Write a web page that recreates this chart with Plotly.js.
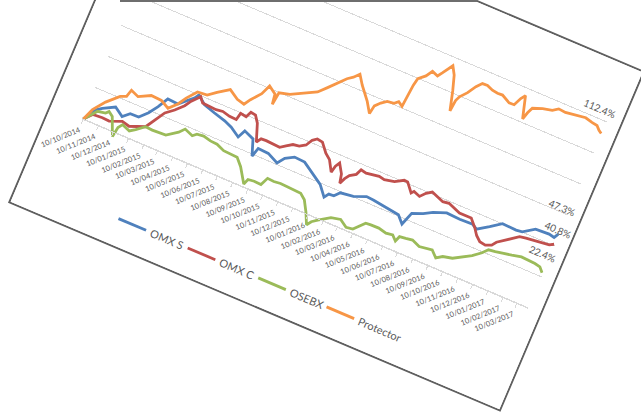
<!DOCTYPE html>
<html><head><meta charset="utf-8">
<script src="https://cdn.plot.ly/plotly-3.0.1.min.js"></script>
<style>
html,body{margin:0;padding:0;background:#fff;overflow:hidden;width:641px;height:414px;}
#frame{position:absolute;left:58.5px;top:-48.5px;width:535px;height:370px;box-sizing:border-box;border:2px solid #5f5f5f;background:#fff;transform-origin:50% 50%;}
#chart{position:absolute;left:0;top:0;width:531px;height:366px;}
#topline{position:absolute;left:120px;top:0;width:357px;height:2px;background:#6e6e6e;}
</style></head>
<body>
<div id="frame"><div id="chart"></div></div>
<div id="topline"></div>
<script>
// Days counted from 10/10/2014, cumulative return in %
const omxsDays = [0,15,25,47,65,77,94,108,120,131,152,164,176,182,198,221,245,261,280,287,307,318,323,344,366,376,392,413,432,456,472,478,488,497,522,545,559,588,613,626,635,655,671,695,722,748,758,779,799,827,839,860,887,898,903];
const omxsVals = [0,7.9,10.2,14.0,10.3,13.8,13.9,18.6,24.1,30.6,30.2,33.7,37.2,40.0,36.0,33.8,31.8,29.8,26.1,31.0,28.5,18.8,24.5,24.1,20.9,25.2,28.2,27.8,24.2,19.2,13.1,15.9,16.1,19.3,20.4,23.3,23.0,21.8,20.8,16.5,24.6,27.1,30.1,33.0,32.5,32.8,31.0,35.5,40.1,39.7,40.2,44.8,45.2,44.5,47.3];

const omxcDays = [0,13,32,46,69,84,113,129,136,151,165,173,186,194,208,222,235,250,264,267,279,284,294,303,315,321,331,345,359,369,380,392,403,410,418,429,443,454,466,469,474,485,489,494,500,511,516,527,539,552,563,582,598,605,619,623,636,645,655,667,680,692,705,717,741,754,763,773,785,796,802,812,823,838,850,863,876,885,895,903];
const omxcVals = [0,4.6,5.1,4.8,7.7,6.6,10.2,18.2,22.2,26.1,30.8,34.8,39.5,36.4,36.2,35.9,36.5,35.4,35.2,39.6,39.0,42.6,42.1,38.1,27.6,30.4,30.6,30.3,30.1,32.4,34.7,35.3,37.5,41.5,43.4,42.9,37.6,34.9,28.5,32.7,35.4,29.9,24.4,28.0,30.8,33.1,36.7,36.0,36.7,37.3,36.7,38.0,41.0,40.9,35.6,37.2,35.7,38.9,41.1,39.6,38.2,38.8,37.3,35.9,35.9,31.5,27.6,24.9,24.3,25.8,28.5,30.8,33.1,36.9,37.6,38.1,38.8,39.0,39.3,40.8];

const osebxDays = [0,8,19,34,39,48,63,66,72,88,98,113,127,154,174,183,200,207,220,235,249,265,279,293,306,319,324,328,340,354,361,374,387,401,415,429,440,452,462,468,478,489,499,517,532,545,554,563,573,589,605,618,627,631,643,656,672,685,697,709,720,738,754,770,785,794,807,819,838,856,870,884,895,903];
const osebxVals = [0,3.1,7.5,8.4,10.0,8.1,-2.9,3.3,6.0,4.1,6.3,10.2,9.9,10.3,14.9,18.1,16.1,18.0,18.6,17.5,17.2,15.2,15.0,14.8,10.4,4.0,1.7,5.1,5.6,5.4,10.3,10.0,10.5,10.3,10.0,9.8,7.1,0.6,-6.1,-3.3,-1.0,1.2,3.5,4.8,1.7,2.3,5.4,8.5,8.8,8.9,7.8,8.4,5.7,9.0,9.5,10.2,8.2,8.8,9.4,5.8,8.2,9.5,12.5,15.5,19.4,22.5,23.1,23.7,25.0,26.3,26.0,25.8,25.1,22.4];

const protDays = [0,9,26,47,58,62,78,100,121,138,152,162,177,196,211,232,251,266,274,289,297,312,315,318,338,360,384,398,407,416,425,435,444,456,464,476,489,492,501,511,524,531,540,542,544,547,559,567,579,585,593,598,607,616,626,628,632,643,653,662,672,684,695,705,722,732,739,745,757,761,766,784,802,812,826,839,852,865,879,890,897,903];
const protVals = [0,7.2,14.4,20.9,22.4,26.9,24.9,28.6,28.3,25.5,30.2,35.3,41.3,41.8,45.6,50.2,46.5,45.4,49.4,55.3,61.3,58.2,51.9,59.8,61.4,65.2,69.2,73.9,77.2,80.3,83.3,85.6,88.8,83.3,80.2,75.8,69.5,74.8,77.8,80.2,80.8,82.7,80.9,89.9,95.2,99.7,103.2,107.2,105.8,108.6,112.6,115.0,110.2,101.3,89.6,96.6,99.5,103.7,108.9,112.1,112.3,110.8,110.3,110.5,107.7,107.9,112.8,115.5,102.1,106.6,110.2,112.4,113.7,116.0,115.6,116.3,116.9,117.4,116.3,115.8,113.6,112.4];

const seriesNames = ['OMX S','OMX C','OSEBX','Protector'];
const seriesColors = ['#4F81BD','#C0504D','#9BBB59','#F79646'];

const tickLabels = ['10/10/2014','10/11/2014','10/12/2014','10/01/2015','10/02/2015','10/03/2015','10/04/2015','10/05/2015','10/06/2015','10/07/2015','10/08/2015','10/09/2015','10/10/2015','10/11/2015','10/12/2015','10/01/2016','10/02/2016','10/03/2016','10/04/2016','10/05/2016','10/06/2016','10/07/2016','10/08/2016','10/09/2016','10/10/2016','10/11/2016','10/12/2016','10/01/2017','10/02/2017','10/03/2017'];

// End-of-series data labels: text, day, y
const endLabelText = ['112.4%','47.3%','40.8%','22.4%'];
const endLabelDay = [883,890,899,890];
const endLabelY = [125.8,62.6,49.7,33.0];

function dayToDate(d){
  return new Date(Date.UTC(2014,9,10) + d*86400000).toISOString().slice(0,10);
}
const tickVals = tickLabels.map(s => { const p = s.split('/'); return p[2]+'-'+p[1]+'-'+p[0]; });

const legendIds = ['legend','legend2','legend3','legend4'];
const legendX = [0.140, 0.295, 0.453, 0.606];

const allDays = [omxsDays, omxcDays, osebxDays, protDays];
const allVals = [omxsVals, omxcVals, osebxVals, protVals];
const traces = seriesNames.map((n,i) => ({
  type:'scatter', mode:'lines', name:n, legend:legendIds[i],
  x: allDays[i].map(dayToDate), y: allVals[i],
  line:{color:seriesColors[i], width:2.8}
}));

const annotations = endLabelText.map((t,i) => ({
  x: dayToDate(endLabelDay[i]), y: endLabelY[i], xref:'x', yref:'y',
  text:t, showarrow:false, xanchor:'center', yanchor:'middle',
  font:{size:10, color:'#595959'}
}));

const layout = {
  width:531, height:366,
  margin:{l:32.5, r:12.5, t:25.8, b:51},
  paper_bgcolor:'#ffffff', plot_bgcolor:'#ffffff',
  font:{family:'Lato, "Liberation Sans", sans-serif', color:'#595959'},
  showlegend:true,
  xaxis:{type:'date', range:['2014-10-07','2017-04-02'], tickmode:'array', tickvals:tickVals, ticktext:tickLabels,
    tickangle:-45, tickfont:{size:7.5, color:'#595959'}, showgrid:false, zeroline:false,
    showline:true, linecolor:'#d9d9d9', linewidth:1, ticks:'outside', ticklen:4, tickcolor:'#d9d9d9',
    anchor:'free', position:0.125, fixedrange:true, automargin:false},
  yaxis:{range:[-20,140], tick0:0, dtick:20, showticklabels:false, showgrid:true, gridcolor:'#d9d9d9', gridwidth:1,
    zeroline:false, showline:false, ticks:'', fixedrange:true, automargin:false},
  annotations:annotations
};
legendIds.forEach((id,i) => {
  layout[id] = {x:legendX[i], y:-0.165, xanchor:'left', yanchor:'middle',
    font:{size:11, color:'#595959'}, itemwidth:30, bgcolor:'rgba(0,0,0,0)'};
});
Plotly.newPlot('chart', traces, layout, {staticPlot:true, displayModeBar:false}).then(function(){
  document.getElementById('frame').style.transform = 'rotate(23deg)';
});
</script>
</body></html>
